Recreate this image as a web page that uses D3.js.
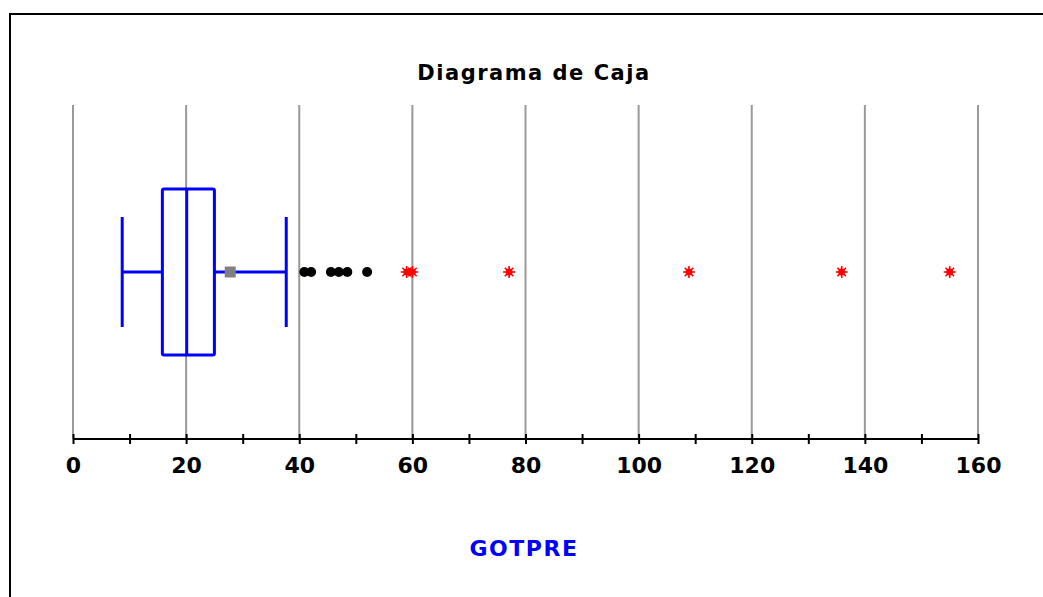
<!DOCTYPE html>
<html>
<head>
<meta charset="utf-8">
<script src="https://cdn.jsdelivr.net/npm/d3@7"></script>
<style>
  body { margin: 0; background: #fff; }
  svg { display: block; }
  text { font-family: "DejaVu Sans", Arial, sans-serif; font-weight: bold; }
</style>
</head>
<body>
<svg id="chart" width="1043" height="597"></svg>
<script>
// Five-number summary of GOTPRE plus its mean
const boxStats = { low: 8.7, q1: 15.8, median: 20.1, q3: 25.0, high: 37.7 };
const meanValue = 27.8;
// Mild outliers (dots) and extreme outliers (asterisks)
const mildOutliers = [40.9, 42.1, 45.6, 47.0, 48.5, 52.0];
const extremeOutliers = [59.0, 60.0, 77.1, 108.9, 135.9, 155.0];
const tickValues = [0, 20, 40, 60, 80, 100, 120, 140, 160];
const minorTicks = d3.range(0, 161, 10);
const titleText = "Diagrama de Caja";
const variableName = "GOTPRE";

const svg = d3.select("#chart");

// frame
svg.append("rect")
  .attr("x", 10).attr("y", 14)
  .attr("width", 1100).attr("height", 700)
  .attr("fill", "none").attr("stroke", "#000").attr("stroke-width", 2);

const x = d3.scaleLinear().domain([0, 160]).range([73, 978]);
const axisY = 439, gridTop = 105;
const cy = 272;

// vertical gridlines
svg.append("g").selectAll("line")
  .data(tickValues)
  .join("line")
  .attr("x1", d => x(d)).attr("x2", d => x(d))
  .attr("y1", gridTop).attr("y2", axisY)
  .attr("stroke", "#999").attr("stroke-width", 2);

// axis
const axis = d3.axisBottom(x)
  .tickValues(minorTicks)
  .tickSize(5)
  .tickFormat(d => tickValues.includes(d) ? d : "");
const gAxis = svg.append("g").attr("transform", `translate(0,${axisY})`).call(axis);
gAxis.select(".domain").attr("stroke", "#000").attr("stroke-width", 2).attr("d", `M${x(0)},0H${x(160)}`);
gAxis.selectAll(".tick line").attr("stroke", "#000").attr("stroke-width", 2).attr("y1", -5).attr("y2", 5);
gAxis.selectAll(".tick text")
  .attr("y", 34).attr("dy", 0)
  .attr("fill", "#000")
  .style("font-size", "22px")
  .style("font-family", "'DejaVu Sans', Arial, sans-serif")
  .style("font-weight", "bold");

// title and variable label
svg.append("text").attr("x", 534).attr("y", 80)
  .attr("text-anchor", "middle").style("font-size", "21px").style("letter-spacing", "1.5px")
  .attr("fill", "#000")
  .text(titleText);
svg.append("text").attr("x", 524).attr("y", 556)
  .attr("text-anchor", "middle").style("font-size", "22px").style("letter-spacing", "1.5px")
  .attr("fill", "#0000ff")
  .text(variableName);

// box plot
const blue = "#0000ff";
const g = svg.append("g").attr("stroke", blue).attr("stroke-width", 3).attr("fill", "none");
const boxH = 166, capH = 110;
g.append("line").attr("x1", x(boxStats.low)).attr("x2", x(boxStats.q1)).attr("y1", cy).attr("y2", cy);
g.append("line").attr("x1", x(boxStats.q3)).attr("x2", x(boxStats.high)).attr("y1", cy).attr("y2", cy);
g.append("line").attr("x1", x(boxStats.low)).attr("x2", x(boxStats.low)).attr("y1", cy - capH / 2).attr("y2", cy + capH / 2);
g.append("line").attr("x1", x(boxStats.high)).attr("x2", x(boxStats.high)).attr("y1", cy - capH / 2).attr("y2", cy + capH / 2);
g.append("rect")
  .attr("x", x(boxStats.q1)).attr("y", cy - boxH / 2)
  .attr("width", x(boxStats.q3) - x(boxStats.q1)).attr("height", boxH)
  .attr("fill", "#fff").attr("rx", 1.5);
g.append("line").attr("x1", x(boxStats.median)).attr("x2", x(boxStats.median))
  .attr("y1", cy - boxH / 2).attr("y2", cy + boxH / 2);

// mean marker
svg.append("rect")
  .attr("x", x(meanValue) - 5.5).attr("y", cy - 5.5)
  .attr("width", 11).attr("height", 11)
  .attr("fill", "#808080");

// mild outliers
svg.append("g").selectAll("circle")
  .data(mildOutliers)
  .join("circle")
  .attr("cx", d => x(d)).attr("cy", cy).attr("r", 5)
  .attr("fill", "#000");

// extreme outliers as red asterisks
const star = svg.append("g").selectAll("g")
  .data(extremeOutliers)
  .join("g")
  .attr("transform", d => `translate(${x(d)},${cy})`);
star.append("circle").attr("r", 3.5).attr("fill", "#ff0000");
star.append("path")
  .attr("d", "M-6,0H6M0,-6V6M-4.3,-4.3L4.3,4.3M-4.3,4.3L4.3,-4.3")
  .attr("stroke", "#ff0000").attr("stroke-width", 1.6);
</script>
</body>
</html>
